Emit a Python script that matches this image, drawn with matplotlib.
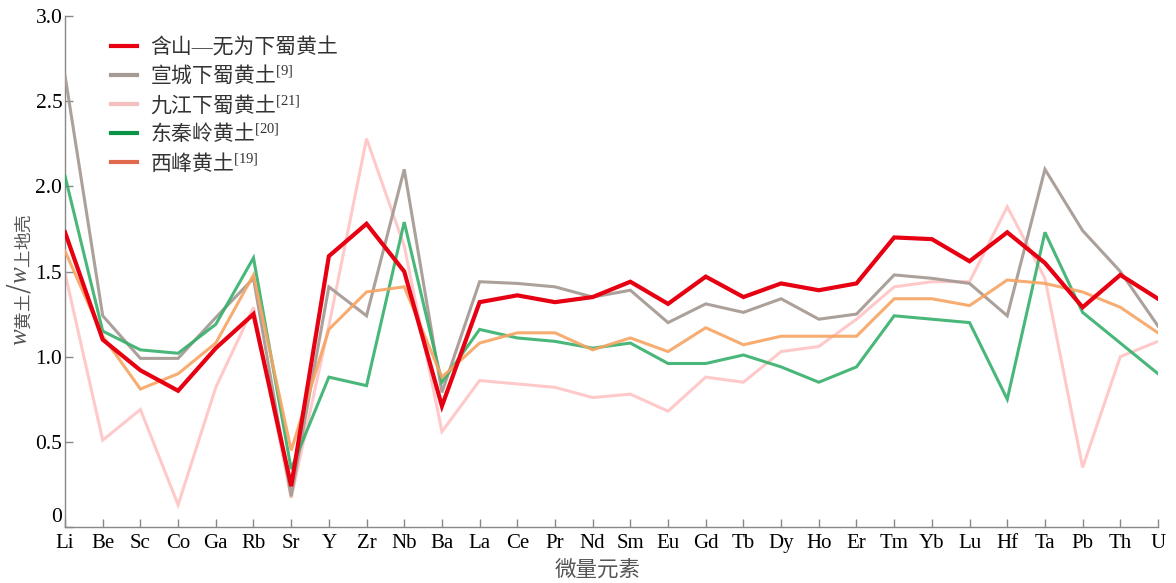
import matplotlib
import matplotlib.pyplot as plt
from matplotlib.transforms import ScaledTranslation

matplotlib.use("Agg")

plt.rcParams["font.family"] = ["Liberation Serif", "Noto Sans CJK SC"]
# CJK inside math strings goes through \mathrm, bracketed refs through \mathbf
plt.rcParams["mathtext.fontset"] = "custom"
plt.rcParams["mathtext.rm"] = "Noto Sans CJK SC"
plt.rcParams["mathtext.bf"] = "Liberation Serif"
plt.rcParams["mathtext.it"] = "Liberation Serif:italic"

elements = ["Li", "Be", "Sc", "Co", "Ga", "Rb", "Sr", "Y", "Zr", "Nb",
            "Ba", "La", "Ce", "Pr", "Nd", "Sm", "Eu", "Gd", "Tb", "Dy",
            "Ho", "Er", "Tm", "Yb", "Lu", "Hf", "Ta", "Pb", "Th", "U"]

# w(loess) / w(upper crust)
hanshan_wuwei = [1.73, 1.10, 0.92, 0.80, 1.05, 1.25, 0.24, 1.59, 1.78, 1.50,
                 0.71, 1.32, 1.36, 1.32, 1.35, 1.44, 1.31, 1.47, 1.35, 1.43,
                 1.39, 1.43, 1.70, 1.69, 1.56, 1.73, 1.55, 1.29, 1.48, 1.34]
xuancheng = [2.65, 1.24, 0.99, 0.99, 1.23, 1.46, 0.18, 1.41, 1.24, 2.10,
             0.79, 1.44, 1.43, 1.41, 1.35, 1.39, 1.20, 1.31, 1.26, 1.34,
             1.22, 1.25, 1.48, 1.46, 1.43, 1.24, 2.10, 1.74, 1.50, 1.18]
jiujiang = [1.49, 0.51, 0.69, 0.13, 0.82, 1.29, 0.17, 1.18, 2.28, 1.65,
            0.56, 0.86, 0.84, 0.82, 0.76, 0.78, 0.68, 0.88, 0.85, 1.03,
            1.06, 1.22, 1.41, 1.44, 1.44, 1.88, 1.46, 0.35, 1.00, 1.09]
east_qinling = [2.06, 1.15, 1.04, 1.02, 1.19, 1.58, 0.34, 0.88, 0.83, 1.79,
                0.85, 1.16, 1.11, 1.09, 1.05, 1.08, 0.96, 0.96, 1.01, 0.94,
                0.85, 0.94, 1.24, 1.22, 1.20, 0.75, 1.73, 1.26, 1.08, 0.90]
xifeng = [1.62, 1.12, 0.81, 0.90, 1.08, 1.48, 0.45, 1.16, 1.38, 1.41,
          0.88, 1.08, 1.14, 1.14, 1.04, 1.11, 1.03, 1.17, 1.07, 1.12,
          1.12, 1.12, 1.34, 1.34, 1.30, 1.45, 1.43, 1.38, 1.29, 1.14]

labels = ["含山—无为下蜀黄土",
          r"$\mathrm{宣城下蜀黄土}^{\mathbf{[9]}}$",
          r"$\mathrm{九江下蜀黄土}^{\mathbf{[21]}}$",
          r"$\mathrm{东秦岭黄土}^{\mathbf{[20]}}$",
          r"$\mathrm{西峰黄土}^{\mathbf{[19]}}$"]
series = [hanshan_wuwei, xuancheng, jiujiang, east_qinling, xifeng]
line_colors = ["#E60012", "#A79C95", "#FFC4C4", "#35B06A", "#F7A462"]
legend_colors = ["#E60012", "#A79C95", "#F5BFBF", "#0A9445", "#E0694E"]
widths = [3.0, 2.2, 2.2, 2.2, 2.2]
alphas = [1.0, 0.95, 0.9, 0.9, 0.9]
zorders = [6, 3, 2, 4, 5]

fig = plt.figure(figsize=(11.76, 5.83), dpi=100)
ax = fig.add_axes([0.0553, 0.096, 0.9294, 0.8766])

x = list(range(len(elements)))
for vals, lab, c, lw, a, z in zip(series, labels, line_colors, widths, alphas, zorders):
    ax.plot(x, vals, color=c, lw=lw, alpha=a, zorder=z, label=lab,
            solid_joinstyle="miter")

ax.set_xlim(0, len(elements) - 1)
ax.set_ylim(0, 3.0)
ax.set_xticks(x)
ax.set_xticklabels(elements, fontsize=15)
ax.set_yticks([0, 0.5, 1.0, 1.5, 2.0, 2.5, 3.0])
ax.set_yticklabels(["0", "0.5", "1.0", "1.5", "2.0", "2.5", "3.0"], fontsize=15.5)
ax.tick_params(direction="in", length=6, color="#888888", width=1)
ax.tick_params(axis="y", pad=2)
ax.tick_params(axis="x", pad=5)
ax.spines["top"].set_visible(False)
ax.spines["right"].set_visible(False)
for side in ("left", "bottom"):
    ax.spines[side].set_color("#888888")
    ax.spines[side].set_linewidth(1)

# lift the "0" label clear of the first element name
zero_lbl = ax.get_yticklabels()[0]
zero_lbl.set_transform(zero_lbl.get_transform()
                       + ScaledTranslation(0, 9 / 72, fig.dpi_scale_trans))

leg = ax.legend(loc="upper left", bbox_to_anchor=(0.094, 0.935),
                bbox_transform=fig.transFigure, frameon=False, fontsize=15,
                handlelength=1.25, handletextpad=0.65, labelspacing=0.27,
                borderaxespad=0, borderpad=0)
for h, c in zip(leg.get_lines(), legend_colors):
    h.set_color(c)
    h.set_alpha(1)
    h.set_linewidth(3)
for t in leg.get_texts():
    t.set_color("#333333")

fig.text(0.017, 0.52, r"$w_{\mathrm{黄土}}/w_{\mathrm{上地壳}}$", rotation=90,
         ha="center", va="center", fontsize=18, color="#555555")
fig.text(0.508, 0.022, "微量元素", ha="center", va="center", fontsize=15.5,
         color="#555555")

fig.savefig("out.png", dpi=100)
